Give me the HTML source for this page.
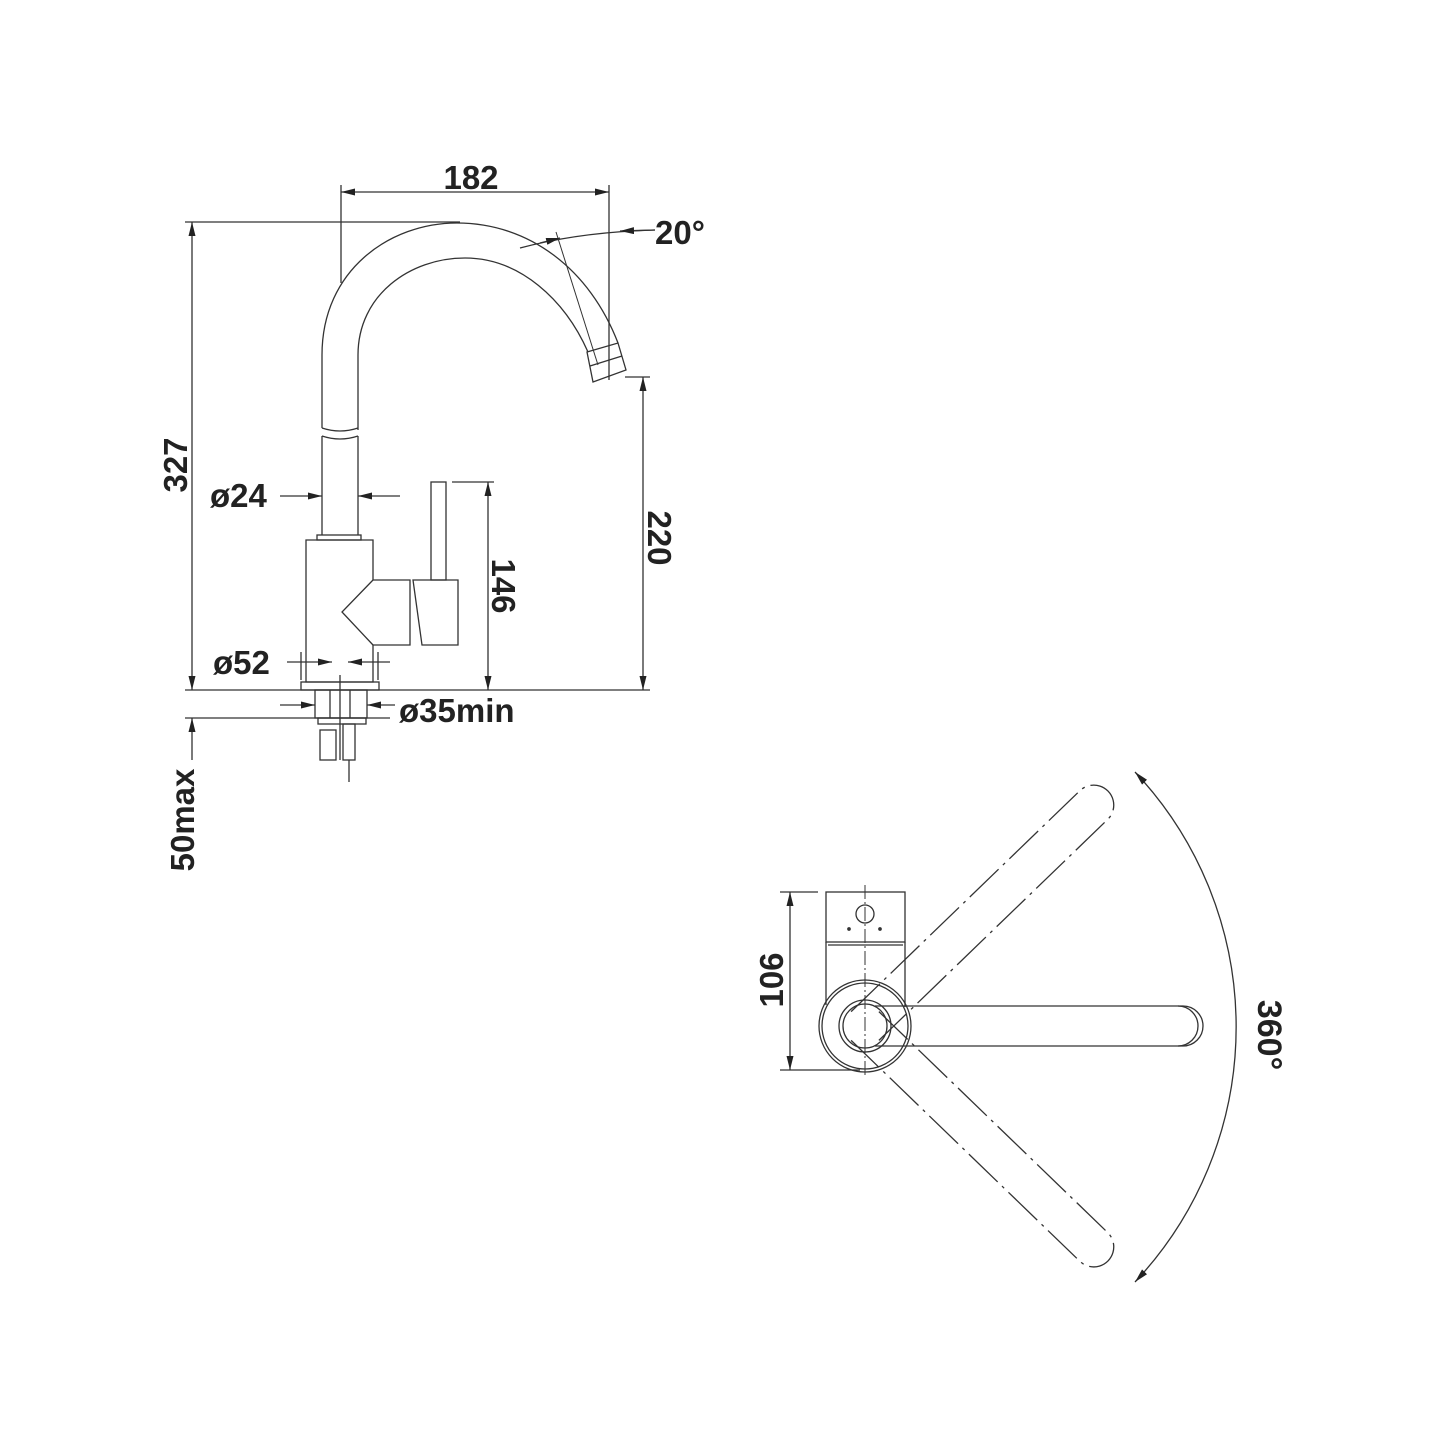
<!DOCTYPE html>
<html><head><meta charset="utf-8"><style>
html,body{margin:0;padding:0;background:#fff}
svg{display:block}
text{font-family:"Liberation Sans",sans-serif;font-weight:bold;fill:#222}
</style></head><body>
<svg width="1445" height="1445" viewBox="0 0 1445 1445" xmlns="http://www.w3.org/2000/svg">
<defs>
<marker id="a" viewBox="0 0 12 6" refX="12" refY="3" markerWidth="14" markerHeight="7" orient="auto-start-reverse" markerUnits="userSpaceOnUse"><path d="M0,0 L12,3 L0,6 Z" fill="#222"/></marker>
</defs>
<g stroke="#333" stroke-width="1.3" fill="none">
<line x1="341" y1="192" x2="609" y2="192" marker-start="url(#a)" marker-end="url(#a)"/>
<line x1="341" y1="185" x2="341" y2="283"/>
<line x1="609" y1="185" x2="609" y2="380"/>
<line x1="185" y1="222" x2="460" y2="222"/>
<line x1="192" y1="222" x2="192" y2="690" marker-start="url(#a)" marker-end="url(#a)"/>
<line x1="185" y1="690" x2="650" y2="690"/>
<path d="M322,428 L322,355 C322,270 390,223 457,223 C530,223 590,270 618,343"/>
<path d="M358,430 L358,355 C358,295 410,258 465,258 C520,258 565,300 588,352"/>
<path d="M587,352 L618,343 L626,370 L593,382 Z"/>
<line x1="590" y1="366" x2="622" y2="356"/>
<line x1="556" y1="232" x2="598" y2="365" stroke-width="1"/>
<path d="M520,248 Q580,232 655,230" />
<line x1="540" y1="243" x2="560" y2="238" marker-end="url(#a)"/>
<line x1="655" y1="230" x2="620" y2="231" marker-end="url(#a)"/>
<path d="M322,428 Q340,434 358,428"/>
<path d="M322,436 Q340,442 358,436"/>
<line x1="322" y1="436" x2="322" y2="535"/>
<line x1="358" y1="436" x2="358" y2="535"/>
<rect x="317" y="535" width="44" height="5"/>
<path d="M306,540 L373,540 L373,580 L410,580 L410,645 L373,645 L373,682 L306,682 Z"/>
<path d="M373,580 L342,612 L373,645"/>
<rect x="431" y="482" width="15" height="98"/>
<path d="M413,580 L458,580 L458,645 L422,645 Z"/>
<rect x="301" y="682" width="78" height="8"/>
<rect x="315" y="690" width="52" height="28"/>
<line x1="330" y1="690" x2="330" y2="718"/><line x1="350" y1="690" x2="350" y2="718"/>
<rect x="318" y="718" width="48" height="6"/>
<rect x="320" y="730" width="16" height="30"/>
<rect x="343" y="724" width="12" height="36"/>
<line x1="349" y1="760" x2="349" y2="782"/>
<line x1="340" y1="675" x2="340" y2="760"/>
<line x1="280" y1="496" x2="322" y2="496" marker-end="url(#a)"/>
<line x1="400" y1="496" x2="358" y2="496" marker-end="url(#a)"/>
<line x1="452" y1="482" x2="494" y2="482"/>
<line x1="488" y1="482" x2="488" y2="690" marker-start="url(#a)" marker-end="url(#a)"/>
<line x1="625" y1="377" x2="650" y2="377"/>
<line x1="643" y1="377" x2="643" y2="690" marker-start="url(#a)" marker-end="url(#a)"/>
<line x1="287" y1="662" x2="332" y2="662" marker-end="url(#a)"/>
<line x1="390" y1="662" x2="348" y2="662" marker-end="url(#a)"/>
<line x1="301" y1="652" x2="301" y2="680"/><line x1="378" y1="652" x2="378" y2="680"/>
<line x1="280" y1="705" x2="315" y2="705" marker-end="url(#a)"/>
<line x1="395" y1="705" x2="367" y2="705" marker-end="url(#a)"/>
<line x1="185" y1="718" x2="390" y2="718"/>
<line x1="192" y1="760" x2="192" y2="718" marker-end="url(#a)"/>

<line x1="780" y1="892" x2="818" y2="892"/>
<line x1="780" y1="1070" x2="860" y2="1070"/>
<line x1="790" y1="892" x2="790" y2="1070" marker-start="url(#a)" marker-end="url(#a)"/>
<rect x="826" y="892" width="79" height="50"/>
<circle cx="865" cy="914" r="9"/>
<circle cx="849" cy="929" r="1.2" fill="#333"/><circle cx="880" cy="929" r="1.2" fill="#333"/>
<path d="M826,942 L826,947 M905,942 L905,947 M828,945 L903,945"/>
<path d="M826,947 L826,1005 M905,947 L905,1007"/>
<line x1="865" y1="885" x2="865" y2="1078" stroke-dasharray="14,3,2,3" stroke-width="1"/>
<circle cx="865" cy="1026" r="46"/>
<circle cx="865" cy="1026" r="43"/>
<circle cx="865" cy="1026" r="26"/>
<circle cx="865" cy="1026" r="22"/>
<path d="M875,1006 L1183,1006 A20,20 0 0 1 1183,1046 L875,1046"/>
<path d="M1178,1006 A20,20 0 0 1 1178,1046"/>
<g transform="rotate(-44 865 1026)" stroke-dasharray="40,6,3,6">
<path d="M865,1006 L1183,1006 A20,20 0 0 1 1183,1046 L865,1046"/>
</g>
<g transform="rotate(44 865 1026)" stroke-dasharray="40,6,3,6">
<path d="M865,1006 L1183,1006 A20,20 0 0 1 1183,1046 L865,1046"/>
</g>
<path d="M1135,772 A372,372 0 0 1 1135,1282" marker-start="url(#a)" marker-end="url(#a)"/>
</g>
<text x="471" y="189" font-size="33" text-anchor="middle">182</text>
<text x="655" y="244" font-size="33">20°</text>
<text x="210" y="507" font-size="33">ø24</text>
<text x="213" y="674" font-size="33">ø52</text>
<text x="399" y="722" font-size="33">ø35min</text>
<text transform="translate(187,465) rotate(-90)" font-size="33" text-anchor="middle">327</text>
<text transform="translate(194,820) rotate(-90)" font-size="33" text-anchor="middle">50max</text>
<text transform="translate(492,586) rotate(90)" font-size="33" text-anchor="middle">146</text>
<text transform="translate(648,538) rotate(90)" font-size="33" text-anchor="middle">220</text>
<text transform="translate(783,980) rotate(-90)" font-size="33" text-anchor="middle">106</text>
<text transform="translate(1258,1035) rotate(90)" font-size="34" text-anchor="middle">360°</text>
</svg>
</body></html>
